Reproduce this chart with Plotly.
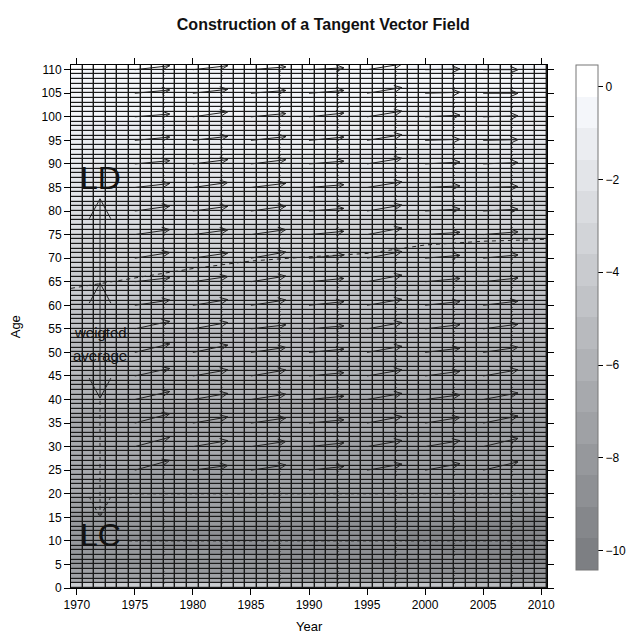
import numpy as np
import plotly.graph_objects as go

# ---------------- data ----------------
years = list(range(1970, 2011))
ages = list(range(0, 111))

# log mortality level by single age (read from the shading)
ax_age = [
    -4.60, -7.30, -7.90, -8.20, -8.40, -8.60, -8.70, -8.80, -8.90, -8.95,
    -9.00, -8.95, -8.90, -8.70, -8.50, -8.20, -7.90, -7.60, -7.40, -7.30,
    -7.25, -7.25, -7.25, -7.24, -7.24, -7.23, -7.21, -7.19, -7.16, -7.13,
    -7.10, -7.05, -7.00, -6.95, -6.88, -6.80, -6.73, -6.66, -6.58, -6.50,
    -6.42, -6.34, -6.25, -6.17, -6.08, -6.00, -5.92, -5.83, -5.75, -5.66,
    -5.58, -5.49, -5.41, -5.32, -5.24, -5.15, -5.06, -4.97, -4.88, -4.79,
    -4.70, -4.61, -4.52, -4.43, -4.34, -4.25, -4.16, -4.07, -3.98, -3.89,
    -3.80, -3.70, -3.60, -3.50, -3.40, -3.30, -3.20, -3.10, -3.00, -2.90,
    -2.80, -2.70, -2.60, -2.50, -2.40, -2.30, -2.20, -2.10, -2.00, -1.90,
    -1.80, -1.71, -1.62, -1.53, -1.44, -1.35, -1.27, -1.19, -1.11, -1.03,
    -0.95, -0.87, -0.79, -0.71, -0.63, -0.55, -0.48, -0.41, -0.34, -0.27,
    -0.20,
]
# age sensitivity to the period index, by age group
bx_groups = [0.80, 0.70, 0.70, 0.70, 0.35, 0.25, 0.25, 0.30, 0.33, 0.35, 0.35,
             0.35, 0.36, 0.38, 0.40, 0.42, 0.42, 0.40, 0.35, 0.28, 0.20, 0.12, 0.06]
bx_group_sizes = [1, 4] + [5] * 20 + [6]
# period index by year
kt = [1.00, 0.97, 0.93, 0.90, 0.86, 0.83, 0.79, 0.76, 0.72, 0.68,
      0.65, 0.61, 0.58, 0.55, 0.50, 0.47, 0.43, 0.39, 0.35, 0.30,
      0.27, 0.23, 0.18, 0.14, 0.09, 0.04, -0.01, -0.07, -0.13, -0.19,
      -0.26, -0.32, -0.38, -0.45, -0.52, -0.58, -0.65, -0.72, -0.79, -0.86,
      -0.93]
z_range = [-10.42, 0.47]
n_bands = 16

# tangent vectors: start year, start age, age shift over 3 years
arrow_years = [1975, 1980, 1985, 1990, 1995, 2000, 2005]
arrow_ages = list(range(25, 111, 5))
arrow_run = 3
arrow_rise = {
    1975: [2.1, 2.0, 2.0, 1.7, 1.6, 1.8, 1.6, 1.1, 0.85, 1.2, 1.06, 1.06, 0.85, 0.7, 0.7, 0.6, 0.7, 0.85],
    1980: [1.0, 1.27, 1.3, 1.3, 1.3, 1.55, 1.35, 1.2, 1.1, 1.1, 1.0, 1.0, 1.06, 0.92, 0.85, 1.06, 0.85, 0.85],
    1985: [1.1, 1.1, 1.1, 1.13, 1.27, 1.06, 0.85, 1.13, 1.2, 1.3, 1.06, 1.06, 0.9, 0.9, 0.8, 0.7, 0.6, 0.6],
    1990: [0.8, 0.8, 0.7, 0.7, 0.7, 0.7, 0.64, 0.78, 0.7, 0.7, 0.7, 0.57, 0.6, 0.6, 0.7, 0.8, 0.6, 0.4],
    1995: [1.3, 1.3, 1.4, 1.3, 1.3, 1.3, 1.34, 1.27, 1.4, 1.4, 1.4, 1.27, 1.2, 1.2, 1.2, 1.2, 1.2, 1.2],
    2000: [1.4, 1.27, 1.2, 1.0, 1.0, 0.9, 0.9, 0.8, 0.7, 0.6, 0.5, 0.45, 0.35, 0.4, 0.2, 0.35, 0.2, 0.14],
    2005: [1.77, 1.77, 1.5, 1.4, 1.3, 1.1, 1.0, 0.9, 0.8, 0.7, 0.6, 0.4, 0.2, 0.3, 0.15, 0.2, 0.0, 0.0],
}
marker_years = [1977.5, 1982.5, 1987.5, 1992.5, 1997.5, 2002.5, 2007.5]

# dashed LD trajectory
ld_years = [1969.5, 1975, 1980, 1985, 1990, 1995, 2000, 2005, 2010.5]
ld_ages = [63.6, 65.8, 67.8, 69.4, 70.3, 71.0, 72.8, 73.6, 74.0]

# dashed horizontal reference ages
ref_full_age = 40
ref_ages = [10, 20]
ref_start = 1974.5

# construction arrows at one year
c_year = 1972
c_ld_tip = 82.6
c_mid = 64.7
c_low = 40.3
c_lc_tip = 15.1

# ---------------- figure ----------------
bx = np.repeat(bx_groups, bx_group_sizes)
z = np.array(ax_age)[:, None] + bx[:, None] * np.array(kt)[None, :]

def band_color(i):
    g = 127 + (255 - 127) * i / (n_bands - 1)
    r = max(0, min(255, g - 2)); b = max(0, min(255, g + 4))
    if i == n_bands - 1:
        r = g = b = 255
    return f"rgb({int(r)},{int(g)},{int(b)})"

cs = []
for i in range(n_bands):
    c = band_color(i)
    cs.append([i / n_bands, c])
    cs.append([(i + 1) / n_bands, c])

fig = go.Figure()
fig.add_trace(go.Heatmap(
    x=years, y=[a + 0.5 for a in ages], z=z,
    zmin=z_range[0], zmax=z_range[1], colorscale=cs,
    xgap=1.4, ygap=1.2, hoverinfo="skip",
    colorbar=dict(
        x=1.06, xanchor="left", xpad=0, ypad=0, y=1.0, yanchor="top",
        len=0.965, lenmode="fraction", thickness=22, thicknessmode="pixels",
        outlinewidth=1, outlinecolor="#777",
        tickvals=[0, -2, -4, -6, -8, -10], ticks="outside", ticklen=5,
        tickcolor="black", tickfont=dict(family="Liberation Sans", size=12, color="black"),
    ),
))

DARK = "#222"
px_year = 484 / 41.0
px_age = 523 / 111.0

def line(xs, ys, dash=None, width=1, color=DARK):
    fig.add_trace(go.Scatter(x=xs, y=ys, mode="lines",
                             line=dict(color=color, width=width, dash=dash),
                             hoverinfo="skip", showlegend=False, connectgaps=False))

# dotted vertical marker lines
for xv in marker_years:
    line([xv, xv], [0, 111], dash="1px,3px", width=1.0)
# dashed horizontal lines
line([1969.5, 2010.5], [ref_full_age, ref_full_age], dash="3px,3px")
for a in ref_ages:
    line([ref_start, 2010.5], [a, a], dash="3px,3px")
# LD trajectory
line(ld_years, ld_ages, dash="4px,4px")

# tangent vector arrows: shaft + open chevron head, built in pixel space
head_len, head_ang = 8.5, np.radians(24)
ax_x, ax_y = [], []
for yr in arrow_years:
    for a, r in zip(arrow_ages, arrow_rise[yr]):
        x0, y0, x1, y1 = yr, a, yr + arrow_run, a + r
        dxp, dyp = (x1 - x0) * px_year, (y1 - y0) * px_age
        ang = np.arctan2(dyp, dxp)
        ax_x += [x0, x1, None]
        ax_y += [y0, y1, None]
        for s in (1, -1):
            wa = ang + np.pi + s * head_ang
            ax_x += [x1 + head_len * np.cos(wa) / px_year, x1, None]
            ax_y += [y1 + head_len * np.sin(wa) / px_age, y1, None]
fig.add_trace(go.Scatter(x=ax_x, y=ax_y, mode="lines",
                         line=dict(color=DARK, width=1),
                         hoverinfo="skip", showlegend=False, connectgaps=False))

# construction arrows
wing_dx = 11.0 / px_year
wing_dy = 20.0 / px_age

def chevron(tip, up, dash=None):
    d = -wing_dy if up else wing_dy
    line([c_year - wing_dx, c_year, c_year + wing_dx], [tip + d, tip, tip + d], dash=dash)

line([c_year, c_year], [c_low, c_ld_tip])
line([c_year, c_year], [c_lc_tip, c_low], dash="4px,3px")
chevron(c_ld_tip, True)
chevron(c_mid, True)
chevron(c_low, False)
chevron(c_lc_tip, False, dash="3px,3px")

TF = "Liberation Sans"
annotations = [
    dict(x=c_year, y=87.0, xref="x", yref="y", text="LD", showarrow=False,
         font=dict(family=TF, size=32, color="#111"), yanchor="middle"),
    dict(x=c_year, y=11.2, xref="x", yref="y", text="LC", showarrow=False,
         font=dict(family=TF, size=32, color="#111"), yanchor="middle"),
    dict(x=c_year, y=54.3, xref="x", yref="y", text="weigted", showarrow=False,
         font=dict(family=TF, size=15, color="#111"), yanchor="middle"),
    dict(x=c_year, y=49.3, xref="x", yref="y", text="average", showarrow=False,
         font=dict(family=TF, size=15, color="#111"), yanchor="middle"),
    dict(x=0.5, y=-0.074, xref="paper", yref="paper", text="Year", showarrow=False,
         font=dict(family=TF, size=13, color="black"), yanchor="middle"),
    dict(x=-0.116, y=0.5, xref="paper", yref="paper", text="Age", showarrow=False,
         textangle=-90, font=dict(family=TF, size=13, color="black"), xanchor="center"),
]

axis_common = dict(showgrid=False, zeroline=False, showline=True, mirror="ticks",
                   linecolor="black", linewidth=1, ticks="outside", ticklen=6,
                   tickcolor="black", tickwidth=1,
                   tickfont=dict(family=TF, size=12, color="black"))
fig.update_layout(
    width=639, height=636,
    margin=dict(l=71, r=84, t=65, b=48),
    paper_bgcolor="white", plot_bgcolor="#1a1a1a",
    title=dict(text="<b>Construction of a Tangent Vector Field</b>",
               x=0.506, xanchor="center", y=1 - 24 / 636, yanchor="middle",
               font=dict(family=TF, size=16, color="#111")),
    xaxis=dict(range=[1969.5, 2010.5], tickvals=list(range(1970, 2011, 5)), **axis_common),
    yaxis=dict(range=[0, 111], tickvals=list(range(0, 111, 5)), **axis_common),
    annotations=annotations,
    showlegend=False,
)
fig.write_html("out.html")
